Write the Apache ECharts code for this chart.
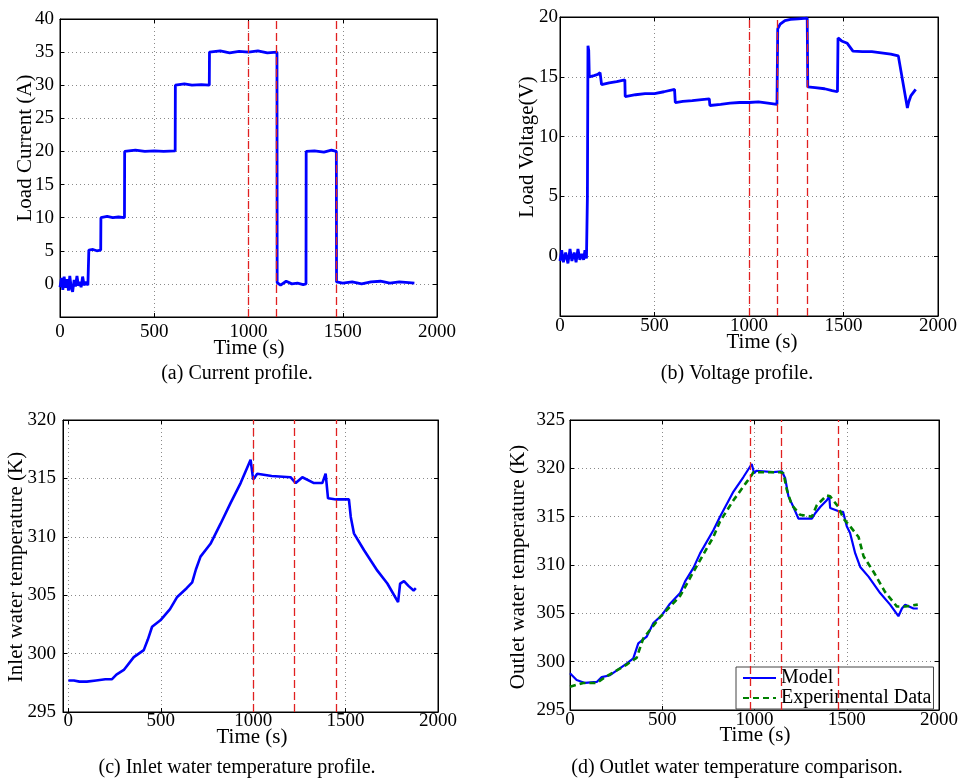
<!DOCTYPE html>
<html><head><meta charset="utf-8">
<script src="https://cdn.jsdelivr.net/npm/echarts@6/dist/echarts.min.js"></script>
<style>html,body{margin:0;padding:0;background:#fff}#c{width:967px;height:783px}</style>
</head><body><div id="c"></div>
<script>
// ---------- data ----------
const xTicks = [0, 500, 1000, 1500, 2000];
const currentData = [[0,-0.5],[8,0.9],[15,-0.9],[22,1.1],[30,-0.6],[38,0.7],[45,-1.0],[52,1.2],[60,-0.7],[67,-1.2],[75,0.6],[82,-0.4],[90,1.2],[98,-0.3],[105,0.3],[112,-0.5],[120,1.1],[128,-0.2],[138,0.3],[148,-0.2],[152,0.0],
 [153,5.1],[175,5.2],[195,5.0],[216,5.1],
 [217,10.0],[250,10.2],[280,10.0],[310,10.1],[342,10.0],
 [343,20.0],[400,20.2],[450,20.0],[500,20.1],[550,20.0],[611,20.1],
 [612,30.0],[660,30.2],[700,30.0],[750,30.1],[792,30.0],
 [793,35.0],[850,35.2],[900,34.9],[950,35.1],[1000,35.0],[1050,35.2],[1100,34.9],[1151,35.0],
 [1152,0.2],[1170,-0.2],[1200,0.4],[1230,0.0],[1260,0.1],[1290,-0.1],[1305,0.0],
 [1306,20.0],[1350,20.1],[1400,19.9],[1440,20.2],[1466,20.0],
 [1467,0.3],[1500,0.1],[1550,0.3],[1600,0.0],[1650,0.3],[1700,0.4],[1750,0.1],[1800,0.3],[1850,0.2],[1880,0.1]];
const voltageData = [[0,-0.4],[9,0.5],[18,-0.5],[30,0.3],[42,-0.6],[53,0.6],[63,-0.4],[75,0.3],[85,-0.5],[95,0.6],[105,-0.3],[115,0.2],[125,-0.3],[132,0.5],[140,-0.2],[145,5],[148,17.6],[152,17.2],[155,15.0],[180,15.1],[200,15.2],[212,15.35],[220,14.35],[260,14.5],[300,14.6],[343,14.75],[345,13.35],[400,13.5],[450,13.6],[500,13.6],[550,13.75],[606,13.95],[610,12.85],[650,12.95],[700,13.0],[750,13.1],[790,13.15],[793,12.6],[850,12.7],[900,12.8],[950,12.85],[1000,12.85],[1050,12.9],[1100,12.8],[1148,12.7],[1152,19.0],[1165,19.4],[1190,19.7],[1220,19.8],[1260,19.85],[1308,19.9],[1311,14.15],[1350,14.1],[1400,14.0],[1440,13.85],[1468,13.75],[1471,18.25],[1490,18.0],[1520,17.8],[1550,17.15],[1600,17.1],[1650,17.1],[1700,17.0],[1750,16.9],[1790,16.75],[1800,16.6],[1838,12.4],[1845,12.9],[1856,13.4],[1870,13.7],[1882,13.95]];
const inletData = [[0,297.7],[30,297.7],[60,297.6],[100,297.6],[150,297.7],[200,297.8],[235,297.8],[260,298.2],[300,298.6],[354,299.7],[408,300.3],[430,301.2],[453,302.3],[498,302.85],[550,303.8],[589,304.85],[640,305.6],[670,306.1],[690,307.2],[715,308.3],[769,309.4],[823,311.1],[878,312.9],[932,314.6],[986,316.6],[1000,314.9],[1022,315.4],[1100,315.2],[1202,315.1],[1230,314.6],[1266,315.1],[1329,314.6],[1374,314.6],[1392,315.4],[1405,313.3],[1450,313.2],[1518,313.2],[1528,311.7],[1545,310.3],[1600,308.85],[1672,307.1],[1726,306.0],[1784,304.4],[1795,306.0],[1816,306.2],[1840,305.8],[1868,305.4],[1880,305.6]];
const modelData = [[0,298.8],[36,298.1],[81,297.8],[145,297.9],[172,298.4],[217,298.6],[307,299.8],[343,300.35],[370,301.9],[416,302.6],[452,304.0],[497,304.8],[542,306.0],[597,307.1],[624,308.3],[669,309.7],[705,311.2],[777,313.6],[813,315.0],[886,317.6],[940,319.1],[985,320.45],[998,319.5],[1010,319.75],[1103,319.6],[1148,319.7],[1166,319.0],[1184,317.1],[1211,316.0],[1238,314.8],[1311,314.8],[1320,314.6],[1329,315.35],[1356,316.0],[1392,316.7],[1405,317.1],[1410,315.9],[1464,315.5],[1480,315.5],[1500,314.0],[1518,313.3],[1546,311.2],[1573,309.8],[1618,308.8],[1681,307.1],[1735,305.9],[1780,304.7],[1799,305.5],[1817,305.9],[1862,305.5],[1885,305.5]];
const experimentalData = [[0,297.4],[72,297.8],[145,297.8],[199,298.5],[307,299.7],[361,300.4],[397,302.4],[488,304.6],[597,306.8],[669,309.3],[777,312.9],[813,314.5],[886,316.7],[958,318.6],[985,319.3],[994,319.6],[1139,319.6],[1157,319.5],[1175,317.8],[1202,316.2],[1247,315.2],[1311,315.0],[1338,316.2],[1392,317.2],[1410,317.1],[1455,316.0],[1482,314.8],[1518,314.0],[1564,312.9],[1591,310.9],[1645,309.3],[1708,307.2],[1772,305.7],[1817,305.7],[1885,305.9]];
const markersA = [1000, 1145, 1465];
const markersB = [1000, 1152, 1308];
const markersC = [1000, 1220, 1450];
const markersD = [975, 1146, 1455];

// ---------- styling ----------
const FONT = 'Liberation Serif';
const grids = [
  {left:60, top:19, width:377, height:298},
  {left:560, top:17, width:378, height:299},
  {left:63, top:420, width:375, height:292},
  {left:570, top:420, width:369, height:290}
];
const xMins = [0, 0, -29, 0];
const xLabelMargins = [6, 1, 0, 1];
const yRanges = [[-5,40],[-5,20],[295,320],[295,325]];
const yLabelMargins = [6, 2, 7, 5];
const splitStyle = {show:true, lineStyle:{color:'#8a8a8a', width:1, type:[1,3]}};
const plain = v => String(v);

const xAxes = [], yAxes = [];
grids.forEach((g, i) => {
  xAxes.push({
    gridIndex:i, type:'value', min:xMins[i], max:2000,
    ...(xMins[i] === 0 ? {interval:500} : {}),
    axisLine:{show:true, onZero:false, lineStyle:{color:'#000', width:1}},
    axisTick:{show:true, inside:true, length:4, lineStyle:{color:'#000'}, ...(xMins[i] !== 0 ? {customValues:xTicks} : {})},
    axisLabel:{show:true, margin:xLabelMargins[i], color:'#000', fontFamily:FONT, fontSize:19, formatter:plain, ...(xMins[i] !== 0 ? {customValues:xTicks} : {})},
    splitLine:splitStyle
  });
  yAxes.push({
    gridIndex:i, type:'value', min:yRanges[i][0], max:yRanges[i][1], interval:5,
    axisLine:{show:true, onZero:false, lineStyle:{color:'#000', width:1}},
    axisTick:{show:true, inside:true, length:4, lineStyle:{color:'#000'}},
    axisLabel:{show:true, margin:yLabelMargins[i], color:'#000', fontFamily:FONT, fontSize:19, formatter:plain, showMinLabel: i >= 2},
    splitLine:splitStyle
  });
});
grids.forEach((g, i) => {
  xAxes.push({
    gridIndex:i, type:'value', position:'top', min:xMins[i], max:2000,
    ...(xMins[i] === 0 ? {interval:500} : {}),
    axisLine:{show:true, onZero:false, lineStyle:{color:'#000', width:1}},
    axisTick:{show:true, inside:true, length:4, lineStyle:{color:'#000'}, ...(xMins[i] !== 0 ? {customValues:xTicks} : {})},
    axisLabel:{show:false}, splitLine:{show:false}
  });
  yAxes.push({
    gridIndex:i, type:'value', position:'right', min:yRanges[i][0], max:yRanges[i][1], interval:5,
    axisLine:{show:true, onZero:false, lineStyle:{color:'#000', width:1}},
    axisTick:{show:true, inside:true, length:4, lineStyle:{color:'#000'}},
    axisLabel:{show:false}, splitLine:{show:false}
  });
});

function marks(vals) {
  return {symbol:'none', silent:true, animation:false, label:{show:false},
    lineStyle:{color:'#e02020', width:1.3, type:[8,4]},
    data: vals.map(v => ({xAxis:v}))};
}
function lineSeries(i, name, data, color, width, type, mk) {
  const s = {type:'line', name, xAxisIndex:i, yAxisIndex:i, data, symbol:'none', showSymbol:false,
    animation:false, lineStyle:{color, width, type}, itemStyle:{color}};
  if (mk) s.markLine = marks(mk);
  return s;
}

function txt(x, y, text, size, rot) {
  return {type:'text', x, y, rotation: rot ? Math.PI/2 : 0, z:100,
    style:{text, fill:'#000', font: size + 'px "' + FONT + '"', align:'center', verticalAlign:'middle'}};
}

const option = {
  backgroundColor:'#fff',
  animation:false,
  grid: grids.map(g => ({...g, show:true, borderColor:'#000', borderWidth:1, backgroundColor:'#fff'})),
  xAxis: xAxes,
  yAxis: yAxes,
  legend: {
    data:['Model','Experimental Data'], orient:'vertical', left:736, top:667,
    itemWidth:33, itemHeight:14, itemGap:0, padding:[1,2,1,6],
    backgroundColor:'#fff', borderColor:'#444', borderWidth:1,
    itemStyle:{opacity:0},
    textStyle:{fontFamily:FONT, fontSize:20, color:'#000', lineHeight:19}
  },
  series: [
    lineSeries(0, 'Current', currentData, '#0000ff', 2.8, 'solid', markersA),
    lineSeries(1, 'Voltage', voltageData, '#0000ff', 2.8, 'solid', markersB),
    lineSeries(2, 'Inlet', inletData, '#0000ff', 2.6, 'solid', markersC),
    lineSeries(3, 'Model', modelData, '#0000ff', 2.2, 'solid', markersD),
    lineSeries(3, 'Experimental Data', experimentalData, '#008000', 2.6, [6,4], null)
  ],
  graphic: [
    txt(25, 148, 'Load Current (A)', 21, true),
    txt(249, 348, 'Time (s)', 21),
    txt(237, 374, '(a) Current profile.', 20),
    txt(527, 147, 'Load Voltage(V)', 21, true),
    txt(762, 342, 'Time (s)', 21),
    txt(737, 374, '(b) Voltage profile.', 20),
    txt(16, 567, 'Inlet water temperature (K)', 21, true),
    txt(252, 737, 'Time (s)', 21),
    txt(237, 768, '(c) Inlet water temperature profile.', 20),
    txt(518, 567, 'Outlet water temperature (K)', 21, true),
    txt(755, 735, 'Time (s)', 21),
    txt(737, 768, '(d) Outlet water temperature comparison.', 20)
  ]
};
const chart = echarts.init(document.getElementById('c'), null, {renderer:'canvas'});
chart.setOption(option);
</script>
</body></html>
